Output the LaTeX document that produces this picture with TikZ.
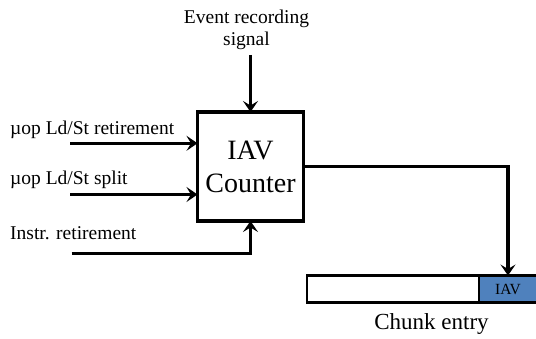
\documentclass[tikz,border=0pt]{standalone}
\usepackage{fontspec}
\setmainfont{Liberation Serif}
\usetikzlibrary{arrows.meta, positioning}

\definecolor{iavblue}{RGB}{79,129,189}

\begin{document}
\begin{tikzpicture}[x=1pt, y=-1pt]
	\tikzset{>={Stealth[length=11pt, width=15pt, inset=4.5pt]},
		wire/.style={->, line width=3.4pt},
		label/.style={inner sep=0pt, font=\fontsize{19.5}{22}\selectfont},
		counterbox/.style={draw, line width=3.4pt, minimum width=106pt, minimum height=109pt, align=center, outer sep=0pt, font=\fontsize{28}{33}\selectfont},
		field/.style={draw, line width=2.8pt, minimum height=27.3pt, inner sep=0pt, outer sep=0pt}}

	\useasboundingbox (0,0) rectangle (536,339);

	\node[counterbox] (counter) at (250.5,166.5) {IAV\\Counter};
	\node[label, align=center] (event) at (246.5,30) {Event recording\\signal};

	\node[label, anchor=base west] (retire) at (10,135) {µop Ld/St retirement};
	\node[label, anchor=base west] (split) at (10,185) {µop Ld/St split};
	\node[label, anchor=base west] (instr) at (10,240) {Instr. retirement};

	\node[field, minimum width=172pt, anchor=west] (body) at (307,289.2) {};
	\node[field, minimum width=58pt, fill=iavblue, anchor=west, font=\fontsize{15.5}{18}\selectfont] (iav) at (body.east) {IAV};
	\node[inner sep=0pt, anchor=base, font=\fontsize{23}{27}\selectfont] (chunk) at (431.5,330) {Chunk entry};

	\coordinate (evtin) at (250.5,55);
	\coordinate (in1) at (70,143.3);
	\coordinate (in2) at (70,194.5);
	\coordinate (in3) at (71.7,253.3);

	\draw[wire] (evtin) -- (counter.north);
	\draw[wire] (in1) -- (in1 -| counter.west);
	\draw[wire] (in2) -- (in2 -| counter.west);
	\draw[wire] (in3) -- (in3 -| counter.south) -- (counter.south);
	\draw[wire] (counter.east) -| (iav.north);
\end{tikzpicture}
\end{document}
